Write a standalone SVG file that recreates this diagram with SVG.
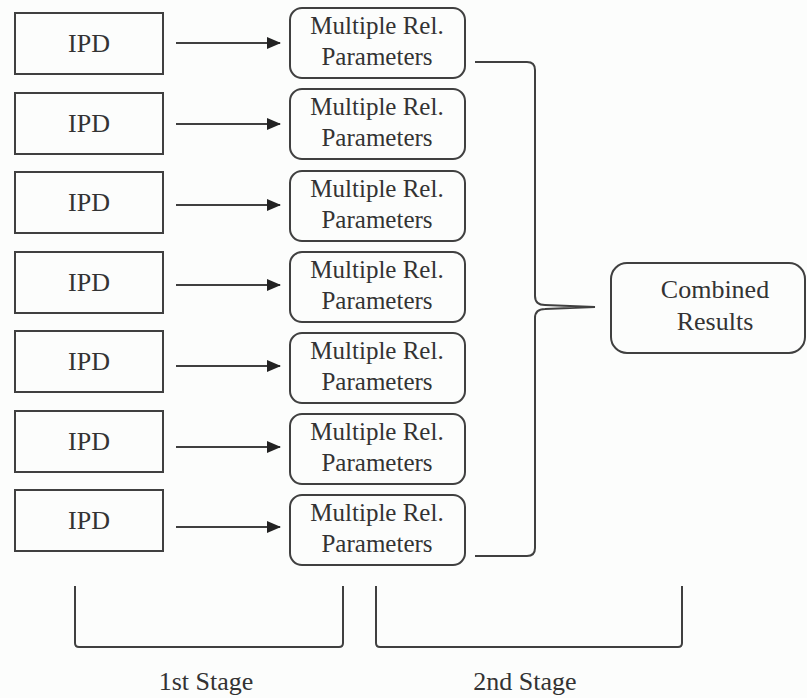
<svg xmlns="http://www.w3.org/2000/svg" width="807" height="698" viewBox="0 0 807 698">
<style>
.box{fill:none;stroke:#404040;stroke-width:2}
.t{font-family:"Liberation Serif","Times New Roman",serif;fill:#333;text-anchor:middle}
.ipd{font-size:26px}
.rel{font-size:25px}
.big{font-size:26px}
.ln{fill:none;stroke:#404040;stroke-width:2}
</style>
<defs>
<marker id="ah" markerWidth="14" markerHeight="12" refX="13" refY="6" orient="auto" markerUnits="userSpaceOnUse">
<path d="M0,0 L14,6 L0,12 Z" fill="#222"/>
</marker>
</defs>
<rect width="807" height="698" fill="#fcfdfc"/>

<g id="ipd1"><rect class="box" x="15" y="13" width="148" height="61"/><text class="t ipd" x="89" y="52">IPD</text></g>
<g id="ipd2"><rect class="box" x="15" y="93" width="148" height="61"/><text class="t ipd" x="89" y="132">IPD</text></g>
<g id="ipd3"><rect class="box" x="15" y="172" width="148" height="61"/><text class="t ipd" x="89" y="211">IPD</text></g>
<g id="ipd4"><rect class="box" x="15" y="252" width="148" height="61"/><text class="t ipd" x="89" y="291">IPD</text></g>
<g id="ipd5"><rect class="box" x="15" y="331" width="148" height="61"/><text class="t ipd" x="89" y="370">IPD</text></g>
<g id="ipd6"><rect class="box" x="15" y="411" width="148" height="61"/><text class="t ipd" x="89" y="450">IPD</text></g>
<g id="ipd7"><rect class="box" x="15" y="490" width="148" height="61"/><text class="t ipd" x="89" y="529">IPD</text></g>

<g id="rel1"><rect class="box" x="290" y="8" width="175" height="70" rx="12"/><text class="t rel" x="377" y="34">Multiple Rel.</text><text class="t rel" x="377" y="65">Parameters</text></g>
<g id="rel2"><rect class="box" x="290" y="89" width="175" height="70" rx="12"/><text class="t rel" x="377" y="115">Multiple Rel.</text><text class="t rel" x="377" y="146">Parameters</text></g>
<g id="rel3"><rect class="box" x="290" y="171" width="175" height="70" rx="12"/><text class="t rel" x="377" y="197">Multiple Rel.</text><text class="t rel" x="377" y="228">Parameters</text></g>
<g id="rel4"><rect class="box" x="290" y="252" width="175" height="70" rx="12"/><text class="t rel" x="377" y="278">Multiple Rel.</text><text class="t rel" x="377" y="309">Parameters</text></g>
<g id="rel5"><rect class="box" x="290" y="333" width="175" height="70" rx="12"/><text class="t rel" x="377" y="359">Multiple Rel.</text><text class="t rel" x="377" y="390">Parameters</text></g>
<g id="rel6"><rect class="box" x="290" y="414" width="175" height="70" rx="12"/><text class="t rel" x="377" y="440">Multiple Rel.</text><text class="t rel" x="377" y="471">Parameters</text></g>
<g id="rel7"><rect class="box" x="290" y="495" width="175" height="70" rx="12"/><text class="t rel" x="377" y="521">Multiple Rel.</text><text class="t rel" x="377" y="552">Parameters</text></g>

<g id="combined"><rect class="box" x="611" y="263" width="194" height="90" rx="16"/><text class="t big" x="715" y="298">Combined</text><text class="t big" x="715" y="330">Results</text></g>

<g id="connectors">
<line class="ln" x1="176" y1="43" x2="280" y2="43" marker-end="url(#ah)"/>
<line class="ln" x1="176" y1="124" x2="280" y2="124" marker-end="url(#ah)"/>
<line class="ln" x1="176" y1="205" x2="280" y2="205" marker-end="url(#ah)"/>
<line class="ln" x1="176" y1="285" x2="280" y2="285" marker-end="url(#ah)"/>
<line class="ln" x1="176" y1="366" x2="280" y2="366" marker-end="url(#ah)"/>
<line class="ln" x1="176" y1="447" x2="280" y2="447" marker-end="url(#ah)"/>
<line class="ln" x1="176" y1="527" x2="280" y2="527" marker-end="url(#ah)"/>
<path class="ln" d="M475,62 H527 Q535,62 535,70 V296 Q535,305 545,305 L595,307 L545,309 Q535,309 535,318 V548 Q535,556 527,556 H475"/>
</g>

<g id="stage1"><path class="ln" d="M75,586 V643 Q75,647 79,647 H339 Q343,647 343,643 V586"/><text class="t big" x="206" y="690">1st Stage</text></g>
<g id="stage2"><path class="ln" d="M376,586 V643 Q376,647 380,647 H678 Q682,647 682,643 V586"/><text class="t big" x="525" y="690">2nd Stage</text></g>
</svg>
